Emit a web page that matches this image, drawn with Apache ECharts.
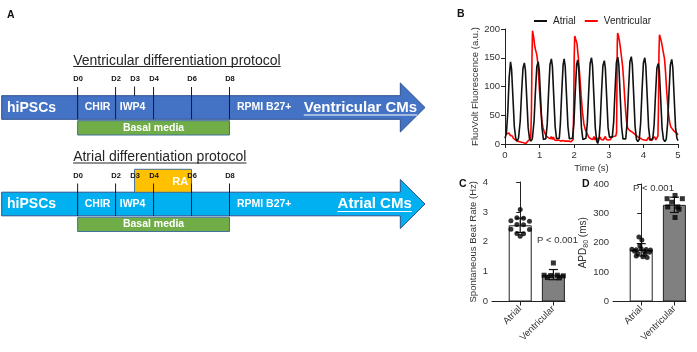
<!DOCTYPE html>
<html><head><meta charset="utf-8">
<script src="https://cdn.jsdelivr.net/npm/echarts@6/dist/echarts.min.js"></script>
<style>html,body{margin:0;padding:0;background:#fff}#c{width:697px;height:352px}</style>
</head><body><div id="c"></div>
<script>
// ---------- DATA ----------
const protocolTitles = ['Ventricular differentiation protocol', 'Atrial differentiation protocol'];
const endProducts = ['Ventricular CMs', 'Atrial CMs'];
const dayLabels = ['D0', 'D2', 'D3', 'D4', 'D6', 'D8'];
const dayValues = [0, 2, 3, 4, 6, 8];
const stageNames = ['CHIR', 'IWP4'];
const stageSpans = [[0, 2], [2, 4]];
const basalSpan = [0, 8];
const raSpan = [3, 6];
const startLabel = 'hiPSCs';
const mediumLabel = 'RPMI B27+';
const basalLabel = 'Basal media';
const raLabel = 'RA';

const traceNames = ['Atrial', 'Ventricular'];
const atrialTrace = [
[0,10],[0.04,18],[0.08,55],[0.12,115],[0.16,143],[0.19,130],[0.23,80],[0.27,30],[0.31,10],[0.35,5],
[0.39,10],[0.44,40],[0.48,90],[0.52,132],[0.56,141],[0.59,128],[0.63,78],[0.67,28],[0.71,9],[0.75,5],
[0.79,9],[0.84,40],[0.88,92],[0.92,135],[0.96,143],[0.99,128],[1.03,78],[1.07,28],[1.11,8],[1.15,5],
[1.18,9],[1.22,35],[1.26,90],[1.30,138],[1.34,148],[1.37,135],[1.41,82],[1.45,30],[1.49,9],[1.53,6],
[1.57,10],[1.60,35],[1.64,90],[1.68,138],[1.71,148],[1.74,135],[1.78,82],[1.82,30],[1.86,9],[1.90,6],
[1.95,10],[1.99,35],[2.03,90],[2.07,138],[2.10,146],[2.13,132],[2.17,80],[2.21,28],[2.25,8],[2.29,5],
[2.34,10],[2.38,38],[2.42,92],[2.46,140],[2.50,150],[2.53,136],[2.57,82],[2.61,28],[2.65,5],[2.68,1],
[2.72,10],[2.75,35],[2.79,90],[2.83,136],[2.87,145],[2.90,132],[2.94,80],[2.98,28],[3.02,12],[3.06,10],
[3.10,12],[3.14,38],[3.18,92],[3.22,142],[3.26,151],[3.29,137],[3.33,84],[3.37,30],[3.41,9],[3.45,6],
[3.49,9],[3.53,38],[3.57,94],[3.61,143],[3.65,152],[3.68,138],[3.72,85],[3.76,30],[3.80,8],[3.84,4],
[3.88,8],[3.92,36],[3.96,92],[4.00,141],[4.04,150],[4.07,136],[4.11,83],[4.15,29],[4.19,8],[4.23,5],
[4.27,8],[4.31,34],[4.35,86],[4.39,132],[4.43,140],[4.46,127],[4.50,78],[4.54,27],[4.58,8],[4.62,4],
[4.66,8],[4.70,36],[4.74,90],[4.78,138],[4.82,147],[4.85,133],[4.89,80],[4.93,28],[4.97,10],[5.00,6]
];
const ventricularTrace = [
[0,17],[0.03,15],[0.06,18],[0.09,16],[0.12,19],[0.15,15],[0.18,17],[0.21,14],[0.24,10],[0.27,12],
[0.30,7],[0.33,9],[0.36,5],[0.39,8],[0.42,4],[0.45,6],[0.48,3],[0.51,5],[0.54,2],[0.57,4],
[0.60,1],[0.63,3],[0.66,5],[0.69,4],[0.72,8],[0.745,12],[0.765,60],[0.78,150],[0.795,197],[0.81,192],
[0.83,185],[0.86,170],[0.89,162],[0.92,155],[0.95,140],[0.98,110],[1.01,80],[1.04,55],[1.07,38],[1.10,28],
[1.13,22],[1.16,20],[1.19,14],[1.22,16],[1.25,11],[1.28,14],[1.31,9],[1.34,13],[1.37,8],[1.40,12],
[1.43,7],[1.46,10],[1.49,6],[1.52,9],[1.55,7],[1.58,10],[1.61,5],[1.64,8],[1.67,6],[1.70,9],
[1.73,5],[1.76,7],[1.79,5],[1.82,8],[1.85,5],[1.88,7],[1.91,4],[1.94,6],[1.97,8],[1.985,60],
[2.00,150],[2.015,188],[2.04,185],[2.08,175],[2.12,150],[2.16,120],[2.20,85],[2.24,55],[2.28,35],[2.32,25],
[2.36,20],[2.39,17],[2.42,12],[2.45,15],[2.48,9],[2.51,12],[2.54,8],[2.57,13],[2.60,7],[2.63,11],
[2.66,6],[2.69,10],[2.72,7],[2.75,12],[2.78,8],[2.81,11],[2.84,7],[2.87,10],[2.90,13],[2.93,8],
[2.96,11],[2.99,7],[3.02,10],[3.05,8],[3.08,12],[3.11,9],[3.14,13],[3.17,10],[3.20,14],[3.225,20],
[3.235,100],[3.245,175],[3.255,193],[3.28,188],[3.31,178],[3.34,165],[3.37,150],[3.40,135],[3.43,110],[3.46,80],
[3.49,55],[3.52,35],[3.55,27],[3.58,25],[3.61,23],[3.64,24],[3.67,21],[3.70,22],[3.73,18],[3.76,19],
[3.79,15],[3.82,16],[3.85,12],[3.88,14],[3.91,10],[3.94,12],[3.97,8],[4.00,11],[4.03,7],[4.06,10],
[4.09,6],[4.12,9],[4.15,12],[4.18,7],[4.21,10],[4.24,6],[4.27,11],[4.30,8],[4.33,12],[4.36,7],
[4.39,10],[4.42,14],[4.435,60],[4.45,160],[4.465,190],[4.49,185],[4.52,178],[4.55,168],[4.58,158],[4.61,148],
[4.64,125],[4.67,95],[4.70,70],[4.73,50],[4.76,38],[4.79,30],[4.82,27],[4.85,25],[4.88,22],[4.91,21],
[4.94,18],[4.97,19],[5.00,16]
];

const groupNames = ['Atrial', 'Ventricular'];
const beatRateMean = [2.55, 0.90];
const beatRateSD = [0.24, 0.17];
const beatRateAtrial = [3.08, 2.80, 2.79, 2.70, 2.69, 2.58, 2.57, 2.42, 2.41, 2.28, 2.27, 2.18];
const beatRateVentricular = [1.29, 0.88, 0.87, 0.88, 0.86, 0.80, 0.79];
const apdMean = [176, 329];
const apdSD = [21, 26];
const apdAtrial = [220, 209, 190, 178, 176, 180, 177, 175, 171, 170, 168, 163, 162, 155, 152, 150];
const apdVentricular = [361, 350, 350, 338, 322, 322, 314, 286];
const pText = 'P < 0.001';

// ---------- LAYOUT ----------
const FONT = '"Liberation Sans", Arial, sans-serif';
const ROW_SHIFT = 96.5;
const endCenterDay = [14.9, 15.65];
const jitterA = [0, -0.1, 0.1, -0.28, 0.28, -0.1, 0.1, -0.28, 0.28, -0.1, 0.1, 0, 0.15, -0.15, 0.05, 0.2];
const jitterV = [0.02, -0.22, 0.24, -0.08, -0.2, 0.1, 0.14, 0.02];
const jitterC_V = [0, -0.28, -0.08, 0.12, 0.3, -0.18, 0.18];
const jitterD_A = [-0.07, 0.02, -0.04, -0.28, -0.15, 0.0, 0.15, 0.28, -0.2, 0.1, 0.25, -0.1, 0.12, -0.15, 0.05, 0.18];

const mctx = document.createElement('canvas').getContext('2d');
function textWidth(t, size, weight) { mctx.font = (weight || 'normal') + ' ' + size + 'px ' + FONT; return mctx.measureText(t).width; }
function T(text, x, y, size, weight, fill, align) {
  return { type: 'text', x: x, y: y, style: { text: text, fill: fill, fontSize: size, fontWeight: weight, fontFamily: FONT,
    align: align || 'center', verticalAlign: 'middle', textAlign: align || 'center', textVerticalAlign: 'middle' } };
}
function L(x1, y1, x2, y2, color, w) {
  return { type: 'line', shape: { x1: x1, y1: y1, x2: x2, y2: y2 }, style: { stroke: color, lineWidth: w || 1 } };
}

function renderProtocol(params, api) {
  const r = params.dataIndex;
  const off = r * ROW_SHIFT;
  const X = d => api.coord([d, 0])[0];
  const bTop = 95.7 + off, bBot = 119.3 + off, hTop = 83 + off, hBot = 132 + off, mid = (bTop + bBot) / 2;
  const ch = [];
  const fill = r === 0 ? '#4472C4' : '#00B0F0';
  const tx = X(0) - 4.5, ty = 61 + off;
  ch.push(T(protocolTitles[r], tx, ty, 14, 'normal', '#262626', 'left'));
  ch.push(L(tx, ty + 5.5, tx + textWidth(protocolTitles[r], 14, 'normal'), ty + 5.5, '#262626', 1));
  ch.push({ type: 'polygon', shape: { points: [[X(-4), bTop], [X(17), bTop], [X(17), hTop], [X(18.3), mid], [X(17), hBot], [X(17), bBot], [X(-4), bBot]] },
    style: { fill: fill, stroke: '#2F528F', lineWidth: 1 } });
  ch.push({ type: 'rect', shape: { x: X(basalSpan[0]), y: 120.7 + off, width: X(basalSpan[1]) - X(basalSpan[0]), height: 14.3 },
    style: { fill: '#70AD47', stroke: '#41719C', lineWidth: 1 } });
  ch.push(T(basalLabel, X((basalSpan[0] + basalSpan[1]) / 2), 128 + off, 10.5, 'bold', '#fff'));
  if (r === 1) {
    ch.push({ type: 'rect', shape: { x: X(raSpan[0]), y: 72.8 + off, width: X(raSpan[1]) - X(raSpan[0]), height: 23 },
      style: { fill: '#FFC000', stroke: '#41719C', lineWidth: 1 } });
    ch.push(T(raLabel, X(5.4), 85.5 + off, 11, 'bold', '#fff'));
  }
  dayValues.forEach(d => {
    if (d === 3) { if (r === 0) ch.push(L(X(d), 86.5 + off, X(d), bTop, '#1a1a1a', 1)); }
    else ch.push(L(X(d), 87 + off, X(d), bBot, '#1a1a1a', 1));
  });
  dayValues.forEach((d, i) => ch.push(T(dayLabels[i], X(d) + 0.5, 79 + off, 7.5, 'bold', '#111')));
  ch.push(T(startLabel, X(-3.72), mid + 0.5, 14, 'bold', '#fff', 'left'));
  stageNames.forEach((s, i) => ch.push(T(s, X((stageSpans[i][0] + stageSpans[i][1]) / 2) + (i === 0 ? 1 : -2), mid, 10.5, 'bold', '#fff')));
  ch.push(T(mediumLabel, X(9.83), mid, 10.5, 'bold', '#fff'));
  const ex = X(endCenterDay[r]);
  const ew = textWidth(endProducts[r], 15, 'bold');
  ch.push(T(endProducts[r], ex, mid, 15, 'bold', '#fff'));
  ch.push(L(ex - ew / 2, mid + 7.5, ex + ew / 2, mid + 7.5, '#fff', 1.2));
  return { type: 'group', children: ch };
}

function renderErr(params, api) {
  const x = api.value(0), m = api.value(1), s = api.value(2);
  const top = api.coord([x, m + s]), bot = api.coord([x, m - s]);
  const cw = 4.5;
  return { type: 'group', children: [
    L(top[0], top[1], bot[0], bot[1], '#111', 1.2),
    L(top[0] - cw, top[1], top[0] + cw, top[1], '#111', 1.2),
    L(bot[0] - cw, bot[1], bot[0] + cw, bot[1], '#111', 1.2)
  ] };
}

const axisCommon = {
  axisLine: { show: true, lineStyle: { color: '#222', width: 1 } },
  axisTick: { show: true, length: 4, lineStyle: { color: '#222' } },
  axisLabel: { color: '#333', fontSize: 9.5, fontFamily: FONT },
  splitLine: { show: false },
  nameTextStyle: { color: '#333', fontSize: 9.5, fontFamily: FONT }
};
function ax(extra) { return Object.assign({}, JSON.parse(JSON.stringify(axisCommon)), extra, {
  axisLabel: Object.assign({}, axisCommon.axisLabel, extra.axisLabel || {}),
  axisTick: Object.assign({}, axisCommon.axisTick, extra.axisTick || {}) }); }

const catX = (gridIndex) => ax({ type: 'value', gridIndex: gridIndex, min: -0.85, max: 1.35,
  axisTick: { customValues: [0, 1] },
  axisLabel: { customValues: [0, 1], rotate: 45, margin: 6, formatter: v => groupNames[Math.round(v)] } });

const option = {
  animation: false,
  backgroundColor: '#fff',
  textStyle: { fontFamily: FONT },
  legend: { data: traceNames, left: 529, top: 11, icon: 'rect', itemWidth: 13, itemHeight: 2, itemGap: 9,
    textStyle: { fontSize: 10, color: '#222', fontFamily: FONT, padding: [0, 0, 0, 1] } },
  grid: [
    { left: 1.7, top: 0, width: 423.3, height: 352 },
    { left: 505, top: 29, width: 173, height: 115 },
    { left: 492, top: 182, width: 73, height: 119.5 },
    { left: 613, top: 184, width: 73, height: 117.5 }
  ],
  xAxis: [
    { type: 'value', gridIndex: 0, min: -4, max: 18.3, show: false },
    ax({ type: 'value', gridIndex: 1, min: 0, max: 5, interval: 1, name: 'Time (s)', nameLocation: 'middle', nameGap: 19,
      axisLabel: { margin: 6 } }),
    catX(2),
    catX(3)
  ],
  yAxis: [
    { type: 'value', gridIndex: 0, min: 0, max: 1, show: false },
    ax({ type: 'value', gridIndex: 1, min: 0, max: 200, interval: 50, name: 'FluoVolt Fluorescence (a.u.)', nameLocation: 'middle', nameGap: 24,
      axisLabel: { margin: 5 } }),
    ax({ type: 'value', gridIndex: 2, min: 0, max: 4, interval: 1, name: 'Spontaneous Beat Rate (Hz)', nameLocation: 'middle', nameGap: 14,
      axisLabel: { margin: 4 } }),
    ax({ type: 'value', gridIndex: 3, min: 0, max: 400, interval: 100, name: 'APD{s|80} (ms)', nameLocation: 'middle', nameGap: 19,
      axisLabel: { margin: 4 },
      nameTextStyle: { color: '#333', fontSize: 10, fontFamily: FONT, rich: { s: { fontSize: 7, color: '#333', fontFamily: FONT, verticalAlign: 'bottom', padding: [4, 0, 0, 0] } } } })
  ],
  series: [
    { type: 'custom', xAxisIndex: 0, yAxisIndex: 0, renderItem: renderProtocol, data: protocolTitles.map((t, i) => [i, 0]), silent: true },
    { name: traceNames[0], type: 'line', xAxisIndex: 1, yAxisIndex: 1, data: atrialTrace, symbol: 'none', z: 4,
      lineStyle: { color: '#111', width: 1.6 }, itemStyle: { color: '#111' } },
    { name: traceNames[1], type: 'line', xAxisIndex: 1, yAxisIndex: 1, data: ventricularTrace, symbol: 'none', z: 3,
      lineStyle: { color: '#ff0000', width: 1.6 }, itemStyle: { color: '#ff0000' } },
    { type: 'bar', xAxisIndex: 2, yAxisIndex: 2, barWidth: 23,
      data: beatRateMean.map((m, i) => ({ value: [i, m], itemStyle: { color: i === 0 ? '#fff' : '#808080', borderColor: '#222', borderWidth: 1 } })) },
    { type: 'custom', xAxisIndex: 2, yAxisIndex: 2, renderItem: renderErr, z: 5, data: beatRateMean.map((m, i) => [i, m, beatRateSD[i]]) },
    { type: 'scatter', xAxisIndex: 2, yAxisIndex: 2, symbol: 'circle', symbolSize: 5, z: 6, itemStyle: { color: '#000' },
      data: beatRateAtrial.map((v, i) => [jitterA[i], v]) },
    { type: 'scatter', xAxisIndex: 2, yAxisIndex: 2, symbol: 'rect', symbolSize: 5, z: 6, itemStyle: { color: '#000' },
      data: beatRateVentricular.map((v, i) => [1 + jitterC_V[i], v]) },
    { type: 'bar', xAxisIndex: 3, yAxisIndex: 3, barWidth: 23,
      data: apdMean.map((m, i) => ({ value: [i, m], itemStyle: { color: i === 0 ? '#fff' : '#808080', borderColor: '#222', borderWidth: 1 } })) },
    { type: 'custom', xAxisIndex: 3, yAxisIndex: 3, renderItem: renderErr, z: 5, data: apdMean.map((m, i) => [i, m, apdSD[i]]) },
    { type: 'scatter', xAxisIndex: 3, yAxisIndex: 3, symbol: 'circle', symbolSize: 5, z: 6, itemStyle: { color: '#000' },
      data: apdAtrial.map((v, i) => [jitterD_A[i], v]) },
    { type: 'scatter', xAxisIndex: 3, yAxisIndex: 3, symbol: 'rect', symbolSize: 5, z: 6, itemStyle: { color: '#000' },
      data: apdVentricular.map((v, i) => [1 + jitterV[i], v]) }
  ],
  graphic: [
    { type: 'text', left: 7, top: 10, style: { text: 'A', fontSize: 10.5, fontWeight: 'bold', fill: '#111', fontFamily: FONT } },
    { type: 'text', left: 457, top: 9, style: { text: 'B', fontSize: 10.5, fontWeight: 'bold', fill: '#111', fontFamily: FONT } },
    { type: 'text', left: 459, top: 179, style: { text: 'C', fontSize: 10.5, fontWeight: 'bold', fill: '#111', fontFamily: FONT } },
    { type: 'text', left: 582, top: 179, style: { text: 'D', fontSize: 10.5, fontWeight: 'bold', fill: '#111', fontFamily: FONT } },
    { type: 'text', left: 537, top: 235, style: { text: pText, fontSize: 9.5, fill: '#333', fontFamily: FONT } },
    { type: 'text', left: 633, top: 183, style: { text: pText, fontSize: 9.5, fill: '#333', fontFamily: FONT } }
  ]
};
const chart = echarts.init(document.getElementById('c'));
chart.setOption(option);
</script>
</body></html>
